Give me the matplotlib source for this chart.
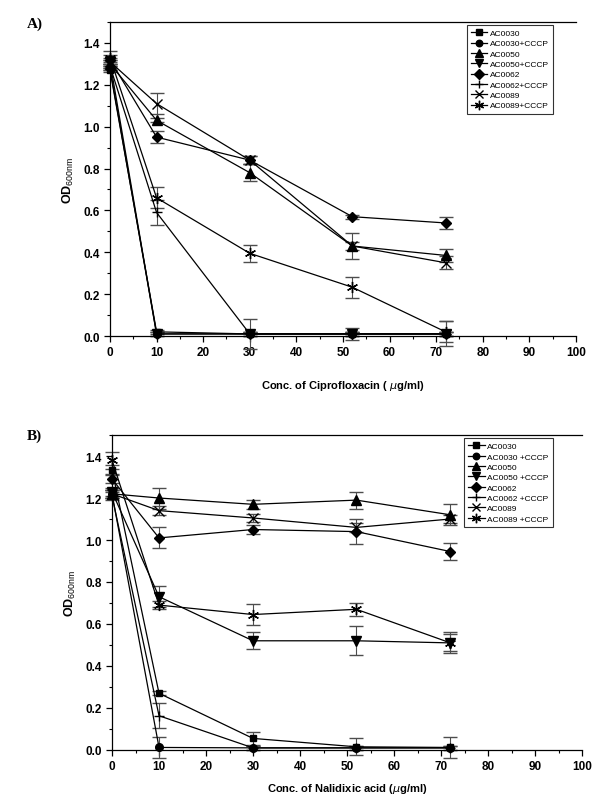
import numpy as np
import matplotlib.pyplot as plt
from matplotlib.ticker import MultipleLocator
from matplotlib.lines import Line2D

plt.rcParams['font.family'] = ['Liberation Sans', 'DejaVu Sans']
plt.rcParams['mathtext.fontset'] = 'custom'
plt.rcParams['mathtext.rm'] = 'Liberation Sans'
plt.rcParams['mathtext.bf'] = 'Liberation Sans:bold'

# --- data ---
conc = [0, 10, 30, 52, 72]

labels_a = ["AC0030", "AC0030+CCCP", "AC0050", "AC0050+CCCP",
            "AC0062", "AC0062+CCCP", "AC0089", "AC0089+CCCP"]
labels_b = ["AC0030", "AC0030 +CCCP", "AC0050", "AC0050 +CCCP",
            "AC0062", "AC0062 +CCCP", "AC0089", "AC0089 +CCCP"]

# A) Ciprofloxacin
cip_ac0030 = [1.27, 0.02, 0.01, 0.01, 0.01]
cip_ac0030_cccp = [1.28, 0.01, 0.01, 0.01, 0.01]
cip_ac0050 = [1.30, 1.03, 0.78, 0.43, 0.385]
cip_ac0050_cccp = [1.31, 0.01, 0.01, 0.01, 0.01]
cip_ac0062 = [1.32, 0.95, 0.84, 0.57, 0.54]
cip_ac0062_cccp = [1.29, 0.59, 0.01, 0.01, 0.01]
cip_ac0089 = [1.31, 1.11, 0.84, 0.43, 0.35]
cip_ac0089_cccp = [1.33, 0.66, 0.395, 0.233, 0.02]

cip_err_ac0030 = [0.01, 0.01, 0.01, 0.01, 0.01]
cip_err_ac0030_cccp = [0.01, 0.01, 0.01, 0.01, 0.01]
cip_err_ac0050 = [0.02, 0.01, 0.04, 0.06, 0.03]
cip_err_ac0050_cccp = [0.01, 0.01, 0.01, 0.01, 0.01]
cip_err_ac0062 = [0.02, 0.03, 0.02, 0.01, 0.03]
cip_err_ac0062_cccp = [0.02, 0.06, 0.07, 0.03, 0.06]
cip_err_ac0089 = [0.02, 0.05, 0.02, 0.02, 0.03]
cip_err_ac0089_cccp = [0.03, 0.05, 0.04, 0.05, 0.05]

# B) Nalidixic acid
nal_ac0030 = [1.335, 0.27, 0.055, 0.015, 0.012]
nal_ac0030_cccp = [1.22, 0.012, 0.01, 0.01, 0.01]
nal_ac0050 = [1.22, 1.20, 1.17, 1.19, 1.12]
nal_ac0050_cccp = [1.23, 0.73, 0.52, 0.52, 0.51]
nal_ac0062 = [1.29, 1.01, 1.05, 1.04, 0.945]
nal_ac0062_cccp = [1.21, 0.163, 0.01, 0.01, 0.01]
nal_ac0089 = [1.22, 1.14, 1.105, 1.06, 1.10]
nal_ac0089_cccp = [1.38, 0.69, 0.645, 0.67, 0.51]

nal_err_ac0030 = [0.02, 0.01, 0.03, 0.04, 0.05]
nal_err_ac0030_cccp = [0.02, 0.05, 0.01, 0.01, 0.01]
nal_err_ac0050 = [0.02, 0.05, 0.02, 0.04, 0.05]
nal_err_ac0050_cccp = [0.02, 0.05, 0.04, 0.07, 0.05]
nal_err_ac0062 = [0.02, 0.05, 0.02, 0.06, 0.04]
nal_err_ac0062_cccp = [0.02, 0.06, 0.01, 0.01, 0.01]
nal_err_ac0089 = [0.02, 0.02, 0.02, 0.02, 0.02]
nal_err_ac0089_cccp = [0.04, 0.02, 0.05, 0.03, 0.04]

markers = ['s', 'o', '^', 'v', 'D', '+', 'x', (6, 2, 0)]
msizes = [5, 5.5, 6.5, 6.5, 5.5, 7, 7, 8]

cip_vals = [cip_ac0030, cip_ac0030_cccp, cip_ac0050, cip_ac0050_cccp,
            cip_ac0062, cip_ac0062_cccp, cip_ac0089, cip_ac0089_cccp]
cip_errs = [cip_err_ac0030, cip_err_ac0030_cccp, cip_err_ac0050, cip_err_ac0050_cccp,
            cip_err_ac0062, cip_err_ac0062_cccp, cip_err_ac0089, cip_err_ac0089_cccp]
nal_vals = [nal_ac0030, nal_ac0030_cccp, nal_ac0050, nal_ac0050_cccp,
            nal_ac0062, nal_ac0062_cccp, nal_ac0089, nal_ac0089_cccp]
nal_errs = [nal_err_ac0030, nal_err_ac0030_cccp, nal_err_ac0050, nal_err_ac0050_cccp,
            nal_err_ac0062, nal_err_ac0062_cccp, nal_err_ac0089, nal_err_ac0089_cccp]

fig = plt.figure(figsize=(6.0, 8.03), dpi=100)
ax1 = fig.add_axes([0.1833, 0.5803, 0.7767, 0.3911])
ax2 = fig.add_axes([0.1867, 0.0648, 0.7833, 0.3922])


def draw(ax, vals, errs, labels, xlabel, xpad, leg_anchor):
    handles = []
    for v, e, lab, m, ms in zip(vals, errs, labels, markers, msizes):
        ax.errorbar(conc, v, yerr=e, color='black', ecolor='0.3',
                    marker=m, markersize=ms, markeredgewidth=1.0,
                    linewidth=0.9, elinewidth=0.8, capsize=5, capthick=0.8,
                    clip_on=False)
        handles.append(Line2D([], [], color='black', marker=m,
                              markersize=ms * 0.85, markeredgewidth=1.0,
                              linewidth=0.9, label=lab))
    ax.set_xlim(0, 100)
    ax.set_ylim(0, 1.5)
    ax.xaxis.set_major_locator(MultipleLocator(10))
    ax.xaxis.set_minor_locator(MultipleLocator(5))
    ax.yaxis.set_minor_locator(MultipleLocator(0.1))
    ax.set_yticks(np.arange(0, 1.41, 0.2))
    ax.yaxis.set_major_formatter(plt.FormatStrFormatter('%.1f'))
    ax.tick_params(which='major', direction='out', length=4, width=0.9,
                   labelsize=8.5)
    ax.tick_params(which='minor', direction='out', length=2.5, width=0.8)
    ax.tick_params(top=False, right=False, which='both')
    for lbl in ax.get_xticklabels() + ax.get_yticklabels():
        lbl.set_fontweight('bold')
    for s in ax.spines.values():
        s.set_linewidth(0.9)
    ax.spines['right'].set_visible(False)
    ax.set_xlabel(xlabel, fontsize=8, fontweight='bold', labelpad=xpad)
    ax.set_ylabel(r'$\mathbf{OD}_{\mathrm{600nm}}$', fontsize=9, labelpad=5)
    leg = ax.legend(handles=handles, loc='upper right',
                    bbox_to_anchor=leg_anchor, fontsize=6.0, frameon=True,
                    fancybox=False, edgecolor='black', handlelength=2.0,
                    handletextpad=0.3, borderpad=0.5, labelspacing=0.3,
                    borderaxespad=0.0)
    leg.get_frame().set_linewidth(0.8)


draw(ax1, cip_vals, cip_errs, labels_a,
     r'Conc. of Ciprofloxacin ( $\mu$g/ml)', 14, (0.951, 0.99))
draw(ax2, nal_vals, nal_errs, labels_b,
     r'Conc. of Nalidixic acid ($\mu$g/ml)', 6, (0.938, 0.99))

fig.text(0.045, 0.965, 'A)', fontsize=11, fontweight='bold',
         family=['Liberation Serif', 'DejaVu Serif'])
fig.text(0.045, 0.452, 'B)', fontsize=11, fontweight='bold',
         family=['Liberation Serif', 'DejaVu Serif'])

fig.savefig('out.png', dpi=100)
